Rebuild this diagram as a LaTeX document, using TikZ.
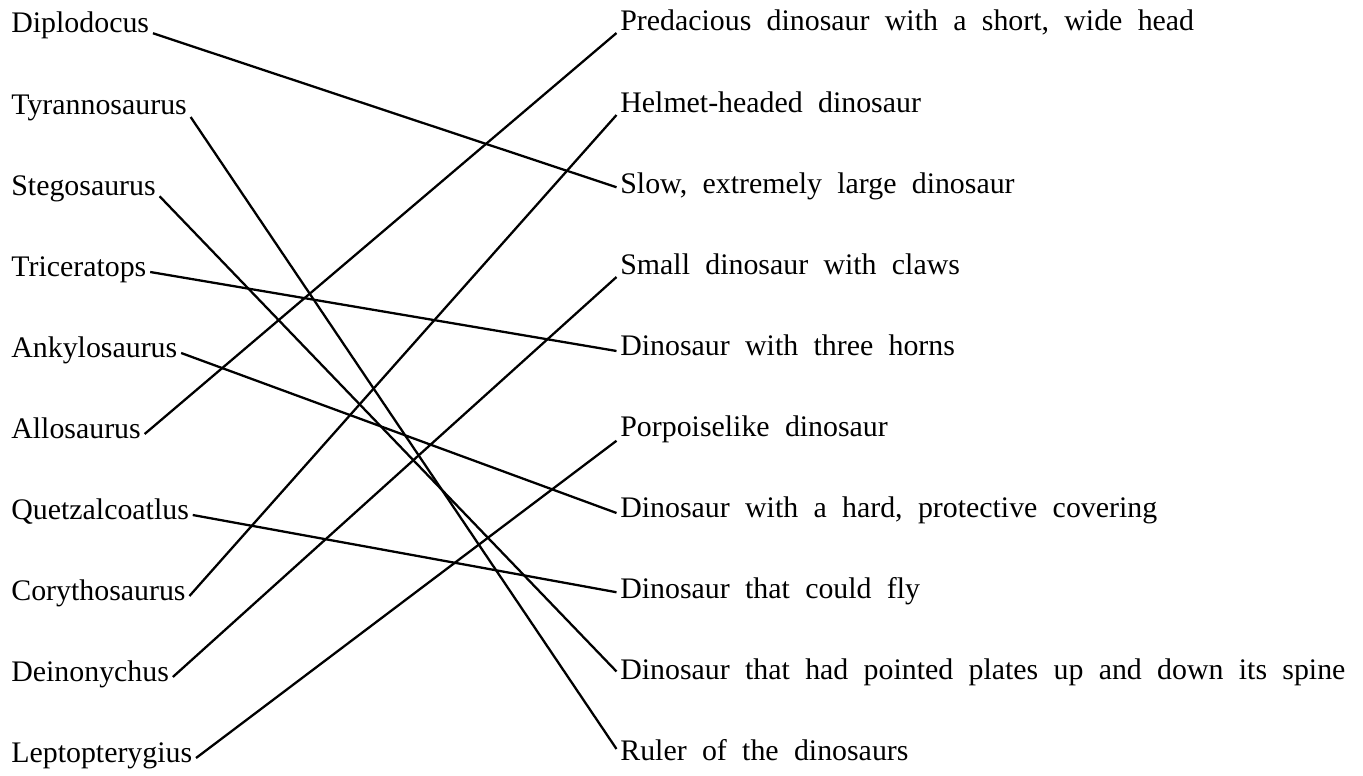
\documentclass[tikz,border=0pt]{standalone}
\usepackage{fontspec}
\setmainfont{Liberation Serif}[WordSpace=2.05]
\usepackage{tikz}

\begin{document}
\begin{tikzpicture}[
    x=0.02cm, y=-0.02cm,
    font=\fontsize{17}{20}\selectfont,
    dino/.style={anchor=west, inner xsep=2pt, inner ysep=0pt,
                 text height=0.7em, text depth=0.2em},
    desc/.style={dino},
    link/.style={line width=1.3pt, black}
  ]
    \useasboundingbox (0,0) rectangle (1363,776);
    % names on the left
    \node[dino] (dip) at (7.5,28)  {Diplodocus};
    \node[dino] (tyr) at (7.5,110) {Tyrannosaurus};
    \node[dino] (ste) at (7.5,191) {Stegosaurus};
    \node[dino] (tri) at (7.5,272) {Triceratops};
    \node[dino] (ank) at (7.5,353) {Ankylosaurus};
    \node[dino] (all) at (7.5,434) {Allosaurus};
    \node[dino] (que) at (7.5,515) {Quetzalcoatlus};
    \node[dino] (cor) at (7.5,596) {Corythosaurus};
    \node[dino] (dei) at (7.5,677) {Deinonychus};
    \node[dino] (lep) at (7.5,758) {Leptopterygius};
    % descriptions on the right
    \node[desc] (d1)  at (616.5,26)  {Predacious dinosaur with a short, wide head};
    \node[desc] (d2)  at (616.5,108) {Helmet-headed dinosaur};
    \node[desc] (d3)  at (616.5,189) {Slow, extremely large dinosaur};
    \node[desc] (d4)  at (616.5,270) {Small dinosaur with claws};
    \node[desc] (d5)  at (616.5,351) {Dinosaur with three horns};
    \node[desc] (d6)  at (616.5,432) {Porpoiselike dinosaur};
    \node[desc] (d7)  at (616.5,513) {Dinosaur with a hard, protective covering};
    \node[desc] (d8)  at (616.5,594) {Dinosaur that could fly};
    \node[desc] (d9)  at (616.5,675) {Dinosaur that had pointed plates up and down its spine};
    \node[desc] (d10) at (616.5,756) {Ruler of the dinosaurs};
    % matches
    \draw[link] ([yshift=-3pt]dip.east) -- ([yshift=1pt]d3.west);
    \draw[link] ([yshift=-4pt]tyr.east) -- ([yshift=4pt]d10.west);
    \draw[link] ([yshift=-3pt]ste.east) -- ([yshift=2pt]d9.west);
    \draw[link] (tri.east) -- (d5.west);
    \draw[link] (ank.east) -- (d7.west);
    \draw[link] (all.east) -- ([yshift=-4pt]d1.west);
    \draw[link] (que.east) -- ([yshift=1pt]d8.west);
    \draw[link] (cor.east) -- ([yshift=-4pt]d2.west);
    \draw[link] (dei.east) -- ([yshift=-4pt]d4.west);
    \draw[link] (lep.east) -- ([yshift=-5pt]d6.west);
  \end{tikzpicture}
\end{document}
